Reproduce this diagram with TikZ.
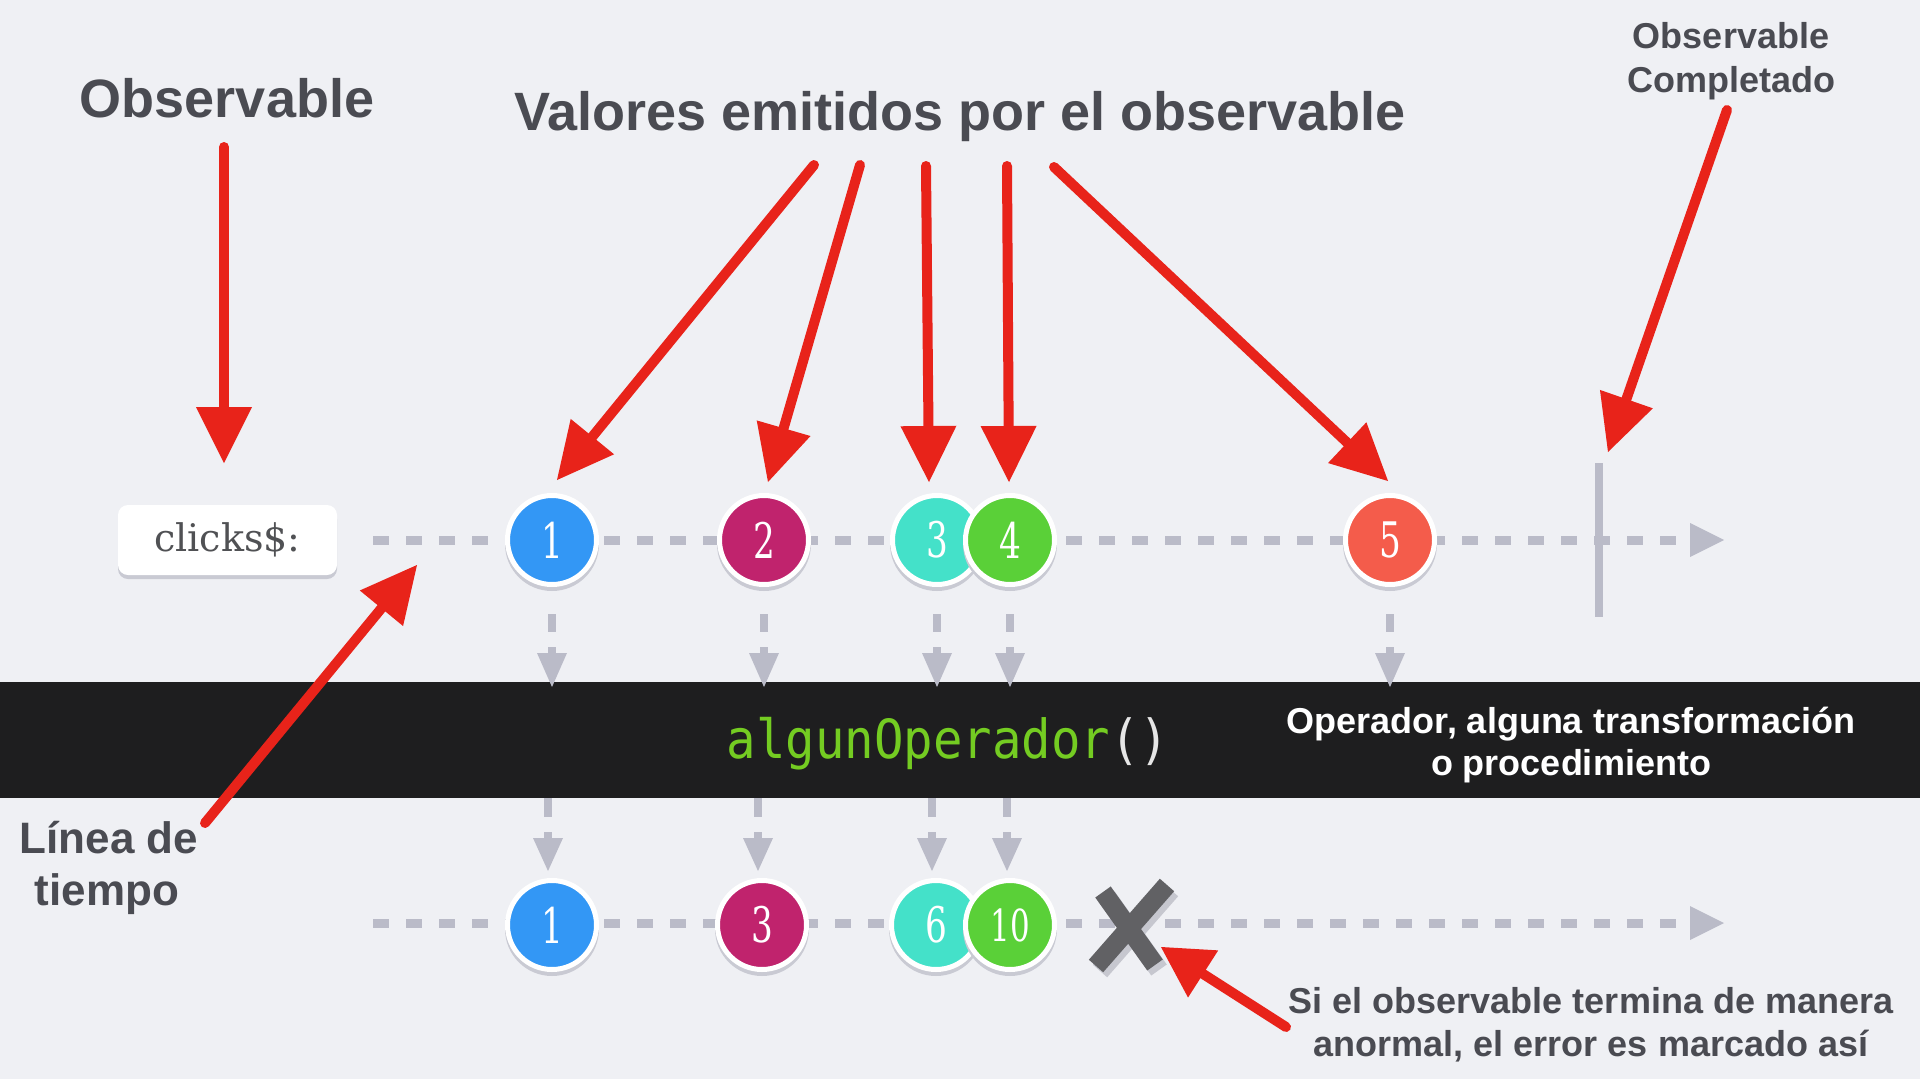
\documentclass[tikz,border=0pt]{standalone}
\usepackage{fontspec}
\usepackage{graphicx}
\usetikzlibrary{calc}
\newfontfamily\lsans{Liberation Sans}
\newfontfamily\dserif{DejaVu Serif}
\newfontfamily\dmono{DejaVu Sans Mono}
\definecolor{bg}{HTML}{EFF0F4}
\definecolor{txt}{HTML}{4A4B52}
\definecolor{dashc}{HTML}{BABBC8}
\definecolor{bandc}{HTML}{1E1E1F}
\definecolor{redc}{HTML}{E8231A}
\definecolor{mblue}{HTML}{3397F5}
\definecolor{mmag}{HTML}{C0236D}
\definecolor{mturq}{HTML}{44E1C9}
\definecolor{mgreen}{HTML}{5AD038}
\definecolor{morange}{HTML}{F45C4B}
\definecolor{opgreen}{HTML}{74CC22}
\definecolor{opwhite}{HTML}{E6E6E6}
\definecolor{xgrey}{HTML}{616164}
\definecolor{xshad}{HTML}{C6C7CF}
\definecolor{shadowc}{HTML}{C9CAD3}
\definecolor{clicktxt}{HTML}{505154}
\tikzset{
  lbl/.style={text=txt, inner sep=0pt, anchor=base, font=\lsans\bfseries\fontsize{#1}{#1}\selectfont},
  wlbl/.style={text=white, inner sep=0pt, anchor=base, font=\lsans\bfseries\fontsize{#1}{#1}\selectfont},
  marble/.style={circle, minimum size=89pt, inner sep=0pt, draw=white, line width=5pt, fill=#1, text=white, font=\dserif\fontsize{49}{49}\selectfont},
  dashline/.style={draw=dashc, line width=9pt, dash pattern=on 16pt off 17pt},
  grey/.style={fill=dashc},
  brushline/.style={draw=redc, line width=10pt, line cap=round},
  clickbox/.style={fill=white, rounded corners=10pt, minimum width=219pt, minimum height=70pt, inner sep=0pt, text=clicktxt, font=\dserif\fontsize{38}{38}\selectfont},
}
\newcommand\marblenode[5]{%
  \fill[shadowc] (#2,#3+4) circle (47pt);
  \node[marble=#4] (#1) at (#2,#3) {\scalebox{0.7}[1]{#5}};}
\newcommand\brush[3][56]{%
  \path ($(#3)!#1pt!(#2)$) coordinate (hb);
  \draw[brushline] (#2) -- (hb);
  \fill[redc] (#3) -- ($(hb)!28pt!90:(#3)$) -- ($(hb)!28pt!-90:(#3)$) -- cycle;}
\newcommand\downtop[1]{%
  \fill[grey] ($(#1)+(-4,74)$) rectangle ($(#1)+(4,92)$);
  \fill[grey] ($(#1)+(-4,107)$) rectangle ($(#1)+(4,116)$);
  \fill[grey] ($(#1)+(-15,113)$) -- ($(#1)+(15,113)$) -- ($(#1)+(0,147)$) -- cycle;}
\newcommand\downbot[1]{%
  \fill[grey] ($(#1)+(-4,-127)$) rectangle ($(#1)+(4,-108)$);
  \fill[grey] ($(#1)+(-4,-93)$) rectangle ($(#1)+(4,-85)$);
  \fill[grey] ($(#1)+(-15,-87)$) -- ($(#1)+(15,-87)$) -- ($(#1)+(0,-54)$) -- cycle;}
\begin{document}
\begin{tikzpicture}[x=1pt,y=-1pt]
\useasboundingbox (0,0) rectangle (1920,1079);
\fill[bg] (0,0) rectangle (1920,1079);

% band
\fill[bandc] (0,682) rectangle (1920,798);
\node[anchor=base, inner sep=0pt, font=\dmono\fontsize{49}{49}\selectfont] (op) at (948,758)
  {\scalebox{1}[1.1]{\textcolor{opgreen}{algunOperador}\textcolor{opwhite}{()}}};
\node[wlbl=36] (opd1) at (1571,733) {Operador, alguna transformación};
\node[wlbl=36] (opd2) at (1571,775) {o procedimiento};

% titles
\node[lbl=54] (tObs) at (227,117) {Observable};
\node[lbl=54] (tVal) at (960,130) {Valores emitidos por el observable};
\node[lbl=36] (tComp1) at (1731,48) {Observable};
\node[lbl=36] (tComp2) at (1731,92) {Completado};
\node[lbl=44] (tLin1) at (109,853) {Línea de};
\node[lbl=44] (tLin2) at (107,905) {tiempo};
\node[lbl=36] (tErr1) at (1591,1013) {Si el observable termina de manera};
\node[lbl=36] (tErr2) at (1591,1056) {anormal, el error es marcado así};

% clicks box
\fill[shadowc, rounded corners=10pt] (118,509) rectangle (337,579);
\node[clickbox] (clk) at (227.5,540) {clicks\$:};

% timelines
\coordinate (tlA) at (373,540);
\coordinate (tlB) at (1692,540);
\coordinate (blA) at (373,923);
\coordinate (blB) at (1692,923);
\draw[dashline] (tlA) -- (tlB);
\fill[dashc] (1690,523) -- (1724,540) -- (1690,557) -- cycle;
\draw[dashline] (blA) -- (blB);
\fill[dashc] (1690,906) -- (1724,923) -- (1690,940) -- cycle;

% completion bar
\coordinate (cbT) at (1599,463);
\coordinate (cbB) at (1599,617);
\draw[draw=dashc, line width=8pt] (cbT) -- (cbB);

% top marbles
\marblenode{t1}{552}{540}{mblue}{1}
\marblenode{t2}{764}{540}{mmag}{2}
\marblenode{t3}{937}{540}{mturq}{3}
\marblenode{t4}{1010}{540}{mgreen}{4}
\marblenode{t5}{1390}{540}{morange}{5}

% bottom marbles
\marblenode{b1}{552}{925}{mblue}{1}
\marblenode{b2}{762}{925}{mmag}{3}
\marblenode{b3}{936}{925}{mturq}{6}
\marblenode{b4}{1010}{925}{mgreen}{\scalebox{0.9}[0.9]{10}}

% down arrows
\downtop{t1}
\downtop{t2}
\downtop{t3}
\downtop{t4}
\downtop{t5}
\coordinate (ba1) at (548,925);
\coordinate (ba2) at (758,925);
\coordinate (ba3) at (932,925);
\coordinate (ba4) at (1007,925);
\downbot{ba1}
\downbot{ba2}
\downbot{ba3}
\downbot{ba4}

% error X
\coordinate (err) at (1130,926);
\draw[xshad, line width=19pt] (1107,897) -- (1159,970);
\draw[xshad, line width=19pt] (1171,890) -- (1100,971);
\draw[xgrey, line width=19pt] (1103,892) -- (1155,965);
\draw[xgrey, line width=19pt] (1167,885) -- (1096,966);

% red arrows
\coordinate (obsT) at (224,147);  \coordinate (obsH) at (224,463);
\coordinate (vaT) at (814,165);   \coordinate (vaH) at (557,480);
\coordinate (vbT) at (860,165);   \coordinate (vbH) at (768,482);
\coordinate (vcT) at (926,166);   \coordinate (vcH) at (929,482);
\coordinate (vdT) at (1007,166);  \coordinate (vdH) at (1009,482);
\coordinate (veT) at (1054,167);  \coordinate (veH) at (1388,481);
\coordinate (cpT) at (1727,110);  \coordinate (cpH) at (1608,452);
\coordinate (lnT) at (205,823);   \coordinate (lnH) at (417,565);
\coordinate (erT) at (1286,1027); \coordinate (erH) at (1161,947);
\brush{obsT}{obsH}
\brush{vaT}{vaH}
\brush{vbT}{vbH}
\brush{vcT}{vcH}
\brush{vdT}{vdH}
\brush{veT}{veH}
\brush{cpT}{cpH}
\brush{lnT}{lnH}
\brush[50]{erT}{erH}
\end{tikzpicture}
\end{document}
